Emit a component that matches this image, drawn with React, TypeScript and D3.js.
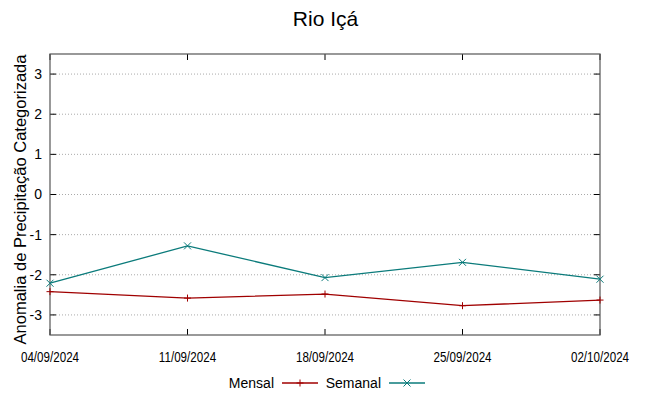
import React, { useEffect, useRef } from 'react';
import * as d3 from 'd3';

const dates = ['04/09/2024', '11/09/2024', '18/09/2024', '25/09/2024', '02/10/2024'];
const mensal = [-2.42, -2.58, -2.48, -2.77, -2.63];
const semanal = [-2.21, -1.28, -2.07, -1.69, -2.11];
const yTicks = [-3, -2, -1, 0, 1, 2, 3];

const W = 649;
const H = 396;
const margin = { top: 54, right: 49, bottom: 61, left: 50 };

const App = () => {
  const svgRef = useRef(null);

  useEffect(() => {
    const svg = d3.select(svgRef.current);
    svg.selectAll('*').remove();
    const font = '"Liberation Sans", Arial, sans-serif';

    const x = d3.scalePoint().domain(dates).range([margin.left, W - margin.right]);
    const y = d3.scaleLinear().domain([-3.5, 3.5]).range([H - margin.bottom, margin.top]);

    // grid
    svg.append('g')
      .selectAll('line')
      .data(yTicks)
      .join('line')
      .attr('x1', margin.left)
      .attr('x2', W - margin.right)
      .attr('y1', (d) => y(d))
      .attr('y2', (d) => y(d))
      .attr('stroke', '#aaa')
      .attr('stroke-width', 1)
      .attr('stroke-dasharray', '1,2');

    // tick marks, mirrored on the opposite sides
    const tk = svg.append('g').attr('stroke', '#000').attr('stroke-width', 1);
    yTicks.forEach((t) => {
      tk.append('line').attr('x1', margin.left).attr('x2', margin.left + 6).attr('y1', y(t)).attr('y2', y(t));
      tk.append('line').attr('x1', W - margin.right).attr('x2', W - margin.right - 6).attr('y1', y(t)).attr('y2', y(t));
    });
    dates.forEach((d) => {
      tk.append('line').attr('x1', x(d)).attr('x2', x(d)).attr('y1', H - margin.bottom).attr('y2', H - margin.bottom - 6);
      tk.append('line').attr('x1', x(d)).attr('x2', x(d)).attr('y1', margin.top).attr('y2', margin.top + 6);
    });

    // frame
    svg.append('rect')
      .attr('x', margin.left)
      .attr('y', margin.top)
      .attr('width', W - margin.left - margin.right)
      .attr('height', H - margin.top - margin.bottom)
      .attr('fill', 'none')
      .attr('stroke', '#555')
      .attr('stroke-width', 1.2);

    // y labels
    svg.append('g')
      .selectAll('text')
      .data(yTicks)
      .join('text')
      .attr('x', margin.left - 8)
      .attr('y', (d) => y(d))
      .attr('dy', '0.35em')
      .attr('text-anchor', 'end')
      .attr('font-family', font)
      .attr('font-size', 14)
      .text((d) => d);

    // x labels (condensed look)
    svg.append('g')
      .selectAll('text')
      .data(dates)
      .join('text')
      .attr('transform', (d) => `translate(${x(d)}, ${H - margin.bottom + 27}) scale(0.83, 1)`)
      .attr('text-anchor', 'middle')
      .attr('font-family', font)
      .attr('font-size', 14)
      .text((d) => d);

    // title
    svg.append('text')
      .attr('x', W / 2 + 1)
      .attr('y', 26)
      .attr('text-anchor', 'middle')
      .attr('font-family', font)
      .attr('font-size', 21)
      .text('Rio Içá');

    // y axis title
    svg.append('text')
      .attr('transform', `translate(26, ${(margin.top + H - margin.bottom) / 2 + 5}) rotate(-90)`)
      .attr('text-anchor', 'middle')
      .attr('font-family', font)
      .attr('font-size', 16.5)
      .text('Anomalia de Precipitação Categorizada');

    const line = d3.line<number>().x((_, i) => x(dates[i])).y((d) => y(d));

    const series = [
      { name: 'Mensal', values: mensal, color: '#a00000', marker: 'plus' },
      { name: 'Semanal', values: semanal, color: '#0b7b7b', marker: 'cross' },
    ];

    const drawMarker = (g, cx, cy, kind, color) => {
      const s = 3.5;
      if (kind === 'plus') {
        g.append('line').attr('x1', cx - s).attr('x2', cx + s).attr('y1', cy).attr('y2', cy).attr('stroke', color);
        g.append('line').attr('x1', cx).attr('x2', cx).attr('y1', cy - s).attr('y2', cy + s).attr('stroke', color);
      } else {
        g.append('line').attr('x1', cx - s).attr('x2', cx + s).attr('y1', cy - s).attr('y2', cy + s).attr('stroke', color);
        g.append('line').attr('x1', cx - s).attr('x2', cx + s).attr('y1', cy + s).attr('y2', cy - s).attr('stroke', color);
      }
    };

    series.forEach((s) => {
      svg.append('path')
        .datum(s.values)
        .attr('d', line)
        .attr('fill', 'none')
        .attr('stroke', s.color)
        .attr('stroke-width', 1.3);
      const g = svg.append('g').attr('stroke-width', 1);
      s.values.forEach((v, i) => drawMarker(g, x(dates[i]), y(v), s.marker, s.color));
    });

    // legend
    const ly = 383;
    const legendItems = [
      { s: series[0], textEnd: 274, x0: 282, x1: 318 },
      { s: series[1], textEnd: 381, x0: 389, x1: 425 },
    ];
    legendItems.forEach((it) => {
      svg.append('text')
        .attr('x', it.textEnd)
        .attr('y', ly)
        .attr('dy', '0.35em')
        .attr('text-anchor', 'end')
        .attr('font-family', font)
        .attr('font-size', 14)
        .text(it.s.name);
      svg.append('line')
        .attr('x1', it.x0).attr('x2', it.x1)
        .attr('y1', ly).attr('y2', ly)
        .attr('stroke', it.s.color)
        .attr('stroke-width', 1.3);
      const g = svg.append('g').attr('stroke-width', 1);
      drawMarker(g, (it.x0 + it.x1) / 2, ly, it.s.marker, it.s.color);
    });
  }, []);

  return (
    <svg
      ref={svgRef}
      width={W}
      height={H}
      style={{ position: 'absolute', left: 0, top: 0, background: '#fff' }}
    />
  );
};

export default App;
